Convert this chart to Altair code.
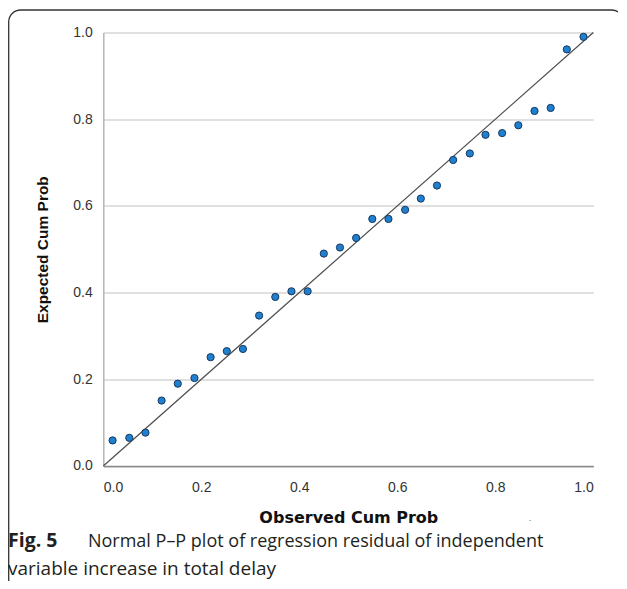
import altair as alt
import pandas as pd

# Observed / expected cumulative probabilities
observed = [0.019, 0.053, 0.086, 0.119, 0.152, 0.186, 0.219, 0.252, 0.285, 0.318,
            0.351, 0.384, 0.417, 0.450, 0.483, 0.516, 0.549, 0.582, 0.616, 0.648,
            0.681, 0.714, 0.748, 0.780, 0.814, 0.847, 0.880, 0.913, 0.946, 0.980]
expected = [0.059, 0.065, 0.077, 0.151, 0.190, 0.203, 0.251, 0.265, 0.270, 0.347,
            0.390, 0.403, 0.403, 0.490, 0.504, 0.526, 0.570, 0.570, 0.591, 0.617,
            0.647, 0.706, 0.721, 0.764, 0.768, 0.786, 0.819, 0.826, 0.961, 0.990]
ref_x = [0.0, 1.0]
ref_y = [0.0, 1.0]
tick_values = [0.0, 0.2, 0.4, 0.6, 0.8, 1.0]

x_title = "Observed Cum Prob"
y_title = "Expected Cum Prob"
caption_bold = "Fig. 5"
caption_line1 = "Normal P\u2013P plot of regression residual of independent"
caption_line2 = "variable increase in total delay"
stray_mark = "."

W, H = 490, 433.5

df = pd.DataFrame({"obs": observed, "exp": expected})
ref = pd.DataFrame({"obs": ref_x, "exp": ref_y})

xscale = alt.Scale(domain=[0, 1], nice=False)
yscale = alt.Scale(domain=[0, 1], nice=False)

xaxis = alt.Axis(values=tick_values, format=".1f", grid=False, ticks=False,
                 domainColor="#8a8a8a", domainWidth=1.5,
                 labelFont="Liberation Sans", labelFontSize=14, labelColor="#333333",
                 labelPadding=14.5, title=x_title, titleFont="DejaVu Sans",
                 titleFontSize=16, titleFontWeight="bold", titleColor="#111111",
                 titlePadding=15)
yaxis = alt.Axis(values=tick_values, format=".1f", grid=True, ticks=False,
                 gridColor="#d6d6d6", gridWidth=1.5,
                 domainColor="#b5b5b5", domainWidth=1.5,
                 labelFont="Liberation Sans", labelFontSize=14, labelColor="#333333",
                 labelPadding=11, title=y_title, titleFont="Liberation Sans",
                 titleFontSize=15.5, titleFontWeight="bold", titleColor="#111111",
                 titlePadding=22)

line = alt.Chart(ref).mark_line(color="#4d4d4d", strokeWidth=1.2).encode(
    x=alt.X("obs:Q", scale=xscale, axis=xaxis),
    y=alt.Y("exp:Q", scale=yscale, axis=yaxis),
)

points = alt.Chart(df).mark_circle(size=52, color="#1f80d0", opacity=1,
                                   stroke="#17375e", strokeWidth=1).encode(
    x=alt.X("obs:Q", scale=xscale),
    y=alt.Y("exp:Q", scale=yscale),
)

frame = alt.Chart(pd.DataFrame({"a": [0]})).mark_rect(
    fill=None, fillOpacity=0, stroke="#333333", strokeWidth=1.3, cornerRadius=12, clip=False
).encode(x=alt.value(-94.6), x2=alt.value(520.5), y=alt.value(-22.5), y2=alt.value(560))

cap_b = alt.Chart(pd.DataFrame({"t": [caption_bold]})).mark_text(
    align="left", baseline="alphabetic", font="Open Sans", fontSize=19.5,
    fontWeight="bold", color="#231f20"
).encode(x=alt.value(-95.3), y=alt.value(514.2), text="t:N")

cap_1 = alt.Chart(pd.DataFrame({"t": [caption_line1]})).mark_text(
    align="left", baseline="alphabetic", font="Open Sans", fontSize=18,
    color="#231f20"
).encode(x=alt.value(-15.3), y=alt.value(514.2), text="t:N")

cap_2 = alt.Chart(pd.DataFrame({"t": [caption_line2]})).mark_text(
    align="left", baseline="alphabetic", font="Open Sans", fontSize=19,
    color="#231f20"
).encode(x=alt.value(-95.3), y=alt.value(542.5), text="t:N")

stray = alt.Chart(pd.DataFrame({"t": [stray_mark]})).mark_text(
    align="center", baseline="alphabetic", font="Liberation Sans", fontSize=9,
    color="#666666"
).encode(x=alt.value(426.7), y=alt.value(489), text="t:N")

chart = alt.layer(line, points, frame, cap_b, cap_1, cap_2, stray).properties(
    width=W, height=H,
    autosize=alt.AutoSizeParams(type="none"),
    padding={"left": 95.3, "top": 24.5, "right": 25, "bottom": 115},
).configure_view(stroke=None)

chart.save("out.html", embed_options={"renderer": "svg", "actions": False})
